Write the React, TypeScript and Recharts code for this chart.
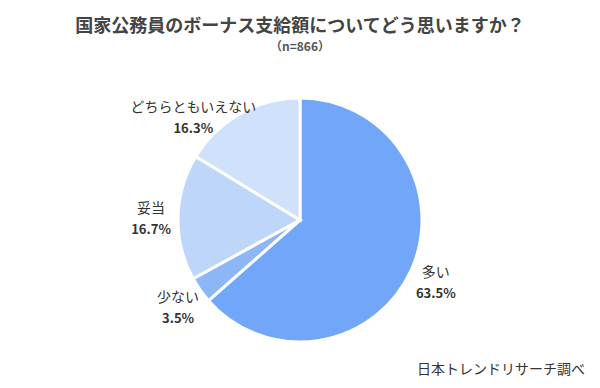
import { PieChart, Pie, Cell } from 'recharts';

const answers = ['多い', '少ない', '妥当', 'どちらともいえない'];
const shares = [63.5, 3.5, 16.7, 16.3];
const sliceColors = ['#72a6f8', '#8db6f7', '#bfd6fb', '#d0e1fc'];

const data = answers.map((name, i) => ({ name, value: shares[i] }));

const RADIAN = Math.PI / 180;
const FONT = '"Noto Sans CJK JP", "Noto Sans", sans-serif';
const LABEL_TOP = 116; // keep labels clear of the subtitle

function renderLabel(props: any) {
  const { cx, cy, midAngle, outerRadius, name, value } = props;
  const r = outerRadius + 27;
  let x = cx + r * Math.cos(-midAngle * RADIAN);
  let y = cy + r * Math.sin(-midAngle * RADIAN);
  if (y < LABEL_TOP) {
    // slide the label along its circle until it sits below the limit
    y = LABEL_TOP;
    const dx = Math.sqrt(Math.max(r * r - (cy - y) * (cy - y), 0));
    x = cx + (x < cx ? -dx : dx);
  }
  return (
    <text x={x} y={y} textAnchor="middle" fontFamily={FONT} fill="#333">
      <tspan x={x} dy={-4} fontSize={14}>{name}</tspan>
      <tspan x={x} dy={21} fontSize={13} fontWeight="bold">{value.toFixed(1)}%</tspan>
    </text>
  );
}

export default function App() {
  return (
    <div style={{ position: 'fixed', left: 0, top: 0, width: 600, height: 388, background: '#fff', fontFamily: FONT }}>
      <div style={{ position: 'absolute', top: 11, left: 0, width: 600, textAlign: 'center', fontSize: 18, fontWeight: 'bold', color: '#444' }}>
        国家公務員のボーナス支給額についてどう思いますか？
      </div>
      <div style={{ position: 'absolute', top: 37, left: 0, width: 600, textAlign: 'center', fontSize: 12, fontWeight: 'bold', color: '#555' }}>
        （n=866）
      </div>
      <PieChart width={600} height={388} margin={{ top: 0, right: 0, bottom: 0, left: 0 }}>
        <Pie
          data={data}
          dataKey="value"
          nameKey="name"
          cx={300}
          cy={220}
          outerRadius={122}
          startAngle={90}
          endAngle={-270}
          stroke="#fff"
          strokeWidth={3}
          label={renderLabel}
          labelLine={false}
          isAnimationActive={false}
        >
          {data.map((d, i) => (
            <Cell key={d.name} fill={sliceColors[i]} />
          ))}
        </Pie>
      </PieChart>
      <div style={{ position: 'absolute', top: 358, left: 417, fontSize: 14, color: '#333' }}>
        日本トレンドリサーチ調べ
      </div>
    </div>
  );
}
